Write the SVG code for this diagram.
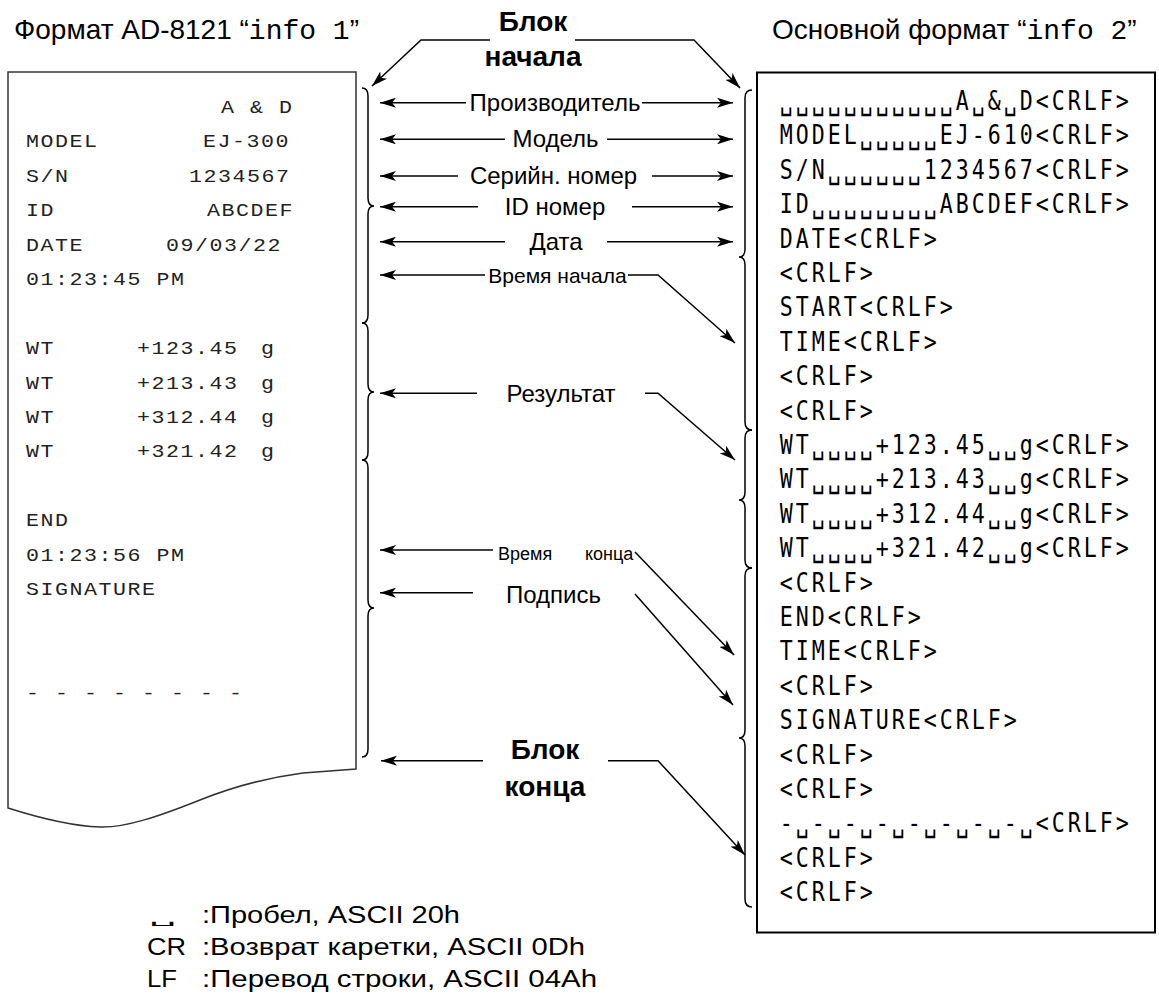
<svg xmlns="http://www.w3.org/2000/svg" width="1159" height="994" viewBox="0 0 1159 994">
<style>
.t{font-family:"Liberation Sans",Arial,sans-serif;fill:#000}
.ttl{font-size:28px}
.tm{font-family:"Liberation Mono","Courier New",monospace}
.mono{font-family:"Liberation Mono","Courier New",monospace;font-size:18px;letter-spacing:1.28px;fill:#222}
.lbl{font-family:"Liberation Sans",Arial,sans-serif;font-size:24px;text-anchor:middle;fill:#000}
.blk{font-family:"Liberation Sans",Arial,sans-serif;font-weight:bold;font-size:28px;text-anchor:middle;fill:#000}
.rt{font-family:"DejaVu Sans Mono","Liberation Mono",monospace;font-size:27px;text-anchor:middle;fill:#000}
.ar{stroke:#000;stroke-width:1.5;fill:none;marker-end:url(#ah)}
.br{stroke:#000;stroke-width:1.5;fill:none}
.leg{font-family:"Liberation Sans",Arial,sans-serif;font-size:23px;fill:#000}
</style>
<defs>
<marker id="ah" markerWidth="16" markerHeight="10" refX="16" refY="5" orient="auto" markerUnits="userSpaceOnUse"><path d="M0,0 L16,5 L0,10 L4,5 Z" fill="#000"/></marker>
</defs>
<rect width="1159" height="994" fill="#fff"/>

<g id="title-left"><text class="t ttl" x="14" y="39">Формат AD-8121 “<tspan class="tm">info 1</tspan>”</text></g>
<g id="title-right"><text class="t ttl" x="772" y="39">Основной формат “<tspan class="tm">info 2</tspan>”</text></g>

<g id="paper">
<path d="M8,72 L356,72 L356,769 L303,773 C280,776 240,784 200,800 C160,816 125,828 100,827 C70,826 30,815 8,808 Z" fill="#fff" stroke="#333" stroke-width="1.5"/>
<g transform="scale(1.2,1)">
<text class="mono" x="184.2" y="113">A &amp; D</text>
<text class="mono" x="21.7" y="147.5">MODEL</text><text class="mono" x="169.2" y="147.5">EJ-300</text>
<text class="mono" x="21.7" y="181.9">S/N</text><text class="mono" x="157.5" y="181.9">1234567</text>
<text class="mono" x="21.7" y="216.4">ID</text><text class="mono" x="172.5" y="216.4">ABCDEF</text>
<text class="mono" x="21.7" y="250.8">DATE</text><text class="mono" x="138.3" y="250.8">09/03/22</text>
<text class="mono" x="21.7" y="285.3">01:23:45 PM</text>
<text class="mono" x="21.7" y="354.2">WT</text><text class="mono" x="114.2" y="354.2">+123.45</text><text class="mono" x="217.5" y="354.2">g</text>
<text class="mono" x="21.7" y="388.6">WT</text><text class="mono" x="114.2" y="388.6">+213.43</text><text class="mono" x="217.5" y="388.6">g</text>
<text class="mono" x="21.7" y="423.1">WT</text><text class="mono" x="114.2" y="423.1">+312.44</text><text class="mono" x="217.5" y="423.1">g</text>
<text class="mono" x="21.7" y="457.5">WT</text><text class="mono" x="114.2" y="457.5">+321.42</text><text class="mono" x="217.5" y="457.5">g</text>
<text class="mono" x="21.7" y="526.4">END</text>
<text class="mono" x="21.7" y="560.9">01:23:56 PM</text>
<text class="mono" x="21.7" y="595.3">SIGNATURE</text>
<text class="mono" x="21.7" y="698.7">- - - - - - - -</text>
</g>
</g>

<g id="record">
<rect x="757" y="72.5" width="398" height="860" fill="#fff" stroke="#000" stroke-width="2"/>
<g transform="scale(0.8,1)">
<text class="rt" y="110" x="982.9 1002.9 1022.9 1042.9 1062.9 1082.9 1102.9 1122.9 1142.9 1162.9 1182.9 1202.9 1222.9 1242.9 1262.9 1282.9 1302.9 1322.9 1342.9 1362.9 1382.9 1402.9">␣␣␣␣␣␣␣␣␣␣␣A␣&amp;␣D&lt;CRLF&gt;</text>
<text class="rt" y="144.4" x="982.9 1002.9 1022.9 1042.9 1062.9 1082.9 1102.9 1122.9 1142.9 1162.9 1182.9 1202.9 1222.9 1242.9 1262.9 1282.9 1302.9 1322.9 1342.9 1362.9 1382.9 1402.9">MODEL␣␣␣␣␣EJ-610&lt;CRLF&gt;</text>
<text class="rt" y="178.8" x="982.9 1002.9 1022.9 1042.9 1062.9 1082.9 1102.9 1122.9 1142.9 1162.9 1182.9 1202.9 1222.9 1242.9 1262.9 1282.9 1302.9 1322.9 1342.9 1362.9 1382.9 1402.9">S/N␣␣␣␣␣␣1234567&lt;CRLF&gt;</text>
<text class="rt" y="213.2" x="982.9 1002.9 1022.9 1042.9 1062.9 1082.9 1102.9 1122.9 1142.9 1162.9 1182.9 1202.9 1222.9 1242.9 1262.9 1282.9 1302.9 1322.9 1342.9 1362.9 1382.9 1402.9">ID␣␣␣␣␣␣␣␣ABCDEF&lt;CRLF&gt;</text>
<text class="rt" y="247.6" x="982.9 1002.9 1022.9 1042.9 1062.9 1082.9 1102.9 1122.9 1142.9 1162.9">DATE&lt;CRLF&gt;</text>
<text class="rt" y="282" x="982.9 1002.9 1022.9 1042.9 1062.9 1082.9">&lt;CRLF&gt;</text>
<text class="rt" y="316.4" x="982.9 1002.9 1022.9 1042.9 1062.9 1082.9 1102.9 1122.9 1142.9 1162.9 1182.9">START&lt;CRLF&gt;</text>
<text class="rt" y="350.8" x="982.9 1002.9 1022.9 1042.9 1062.9 1082.9 1102.9 1122.9 1142.9 1162.9">TIME&lt;CRLF&gt;</text>
<text class="rt" y="385.2" x="982.9 1002.9 1022.9 1042.9 1062.9 1082.9">&lt;CRLF&gt;</text>
<text class="rt" y="419.6" x="982.9 1002.9 1022.9 1042.9 1062.9 1082.9">&lt;CRLF&gt;</text>
<text class="rt" y="454" x="982.9 1002.9 1022.9 1042.9 1062.9 1082.9 1102.9 1122.9 1142.9 1162.9 1182.9 1202.9 1222.9 1242.9 1262.9 1282.9 1302.9 1322.9 1342.9 1362.9 1382.9 1402.9">WT␣␣␣␣+123.45␣␣g&lt;CRLF&gt;</text>
<text class="rt" y="488.4" x="982.9 1002.9 1022.9 1042.9 1062.9 1082.9 1102.9 1122.9 1142.9 1162.9 1182.9 1202.9 1222.9 1242.9 1262.9 1282.9 1302.9 1322.9 1342.9 1362.9 1382.9 1402.9">WT␣␣␣␣+213.43␣␣g&lt;CRLF&gt;</text>
<text class="rt" y="522.8" x="982.9 1002.9 1022.9 1042.9 1062.9 1082.9 1102.9 1122.9 1142.9 1162.9 1182.9 1202.9 1222.9 1242.9 1262.9 1282.9 1302.9 1322.9 1342.9 1362.9 1382.9 1402.9">WT␣␣␣␣+312.44␣␣g&lt;CRLF&gt;</text>
<text class="rt" y="557.2" x="982.9 1002.9 1022.9 1042.9 1062.9 1082.9 1102.9 1122.9 1142.9 1162.9 1182.9 1202.9 1222.9 1242.9 1262.9 1282.9 1302.9 1322.9 1342.9 1362.9 1382.9 1402.9">WT␣␣␣␣+321.42␣␣g&lt;CRLF&gt;</text>
<text class="rt" y="591.6" x="982.9 1002.9 1022.9 1042.9 1062.9 1082.9">&lt;CRLF&gt;</text>
<text class="rt" y="626" x="982.9 1002.9 1022.9 1042.9 1062.9 1082.9 1102.9 1122.9 1142.9">END&lt;CRLF&gt;</text>
<text class="rt" y="660.4" x="982.9 1002.9 1022.9 1042.9 1062.9 1082.9 1102.9 1122.9 1142.9 1162.9">TIME&lt;CRLF&gt;</text>
<text class="rt" y="694.8" x="982.9 1002.9 1022.9 1042.9 1062.9 1082.9">&lt;CRLF&gt;</text>
<text class="rt" y="729.2" x="982.9 1002.9 1022.9 1042.9 1062.9 1082.9 1102.9 1122.9 1142.9 1162.9 1182.9 1202.9 1222.9 1242.9 1262.9">SIGNATURE&lt;CRLF&gt;</text>
<text class="rt" y="763.6" x="982.9 1002.9 1022.9 1042.9 1062.9 1082.9">&lt;CRLF&gt;</text>
<text class="rt" y="798" x="982.9 1002.9 1022.9 1042.9 1062.9 1082.9">&lt;CRLF&gt;</text>
<text class="rt" y="832.4" x="982.9 1002.9 1022.9 1042.9 1062.9 1082.9 1102.9 1122.9 1142.9 1162.9 1182.9 1202.9 1222.9 1242.9 1262.9 1282.9 1302.9 1322.9 1342.9 1362.9 1382.9 1402.9">-␣-␣-␣-␣-␣-␣-␣-␣&lt;CRLF&gt;</text>
<text class="rt" y="866.8" x="982.9 1002.9 1022.9 1042.9 1062.9 1082.9">&lt;CRLF&gt;</text>
<text class="rt" y="901.2" x="982.9 1002.9 1022.9 1042.9 1062.9 1082.9">&lt;CRLF&gt;</text>
</g>
</g>

<g id="label-start-block"><text class="blk" x="533" y="31">Блок</text><text class="blk" x="533" y="66">начала</text></g>
<g id="label-manufacturer"><text class="lbl" x="555" y="110.7">Производитель</text></g>
<g id="label-model"><text class="lbl" x="555.5" y="147.3">Модель</text></g>
<g id="label-serial"><text class="lbl" x="553.5" y="184">Серийн. номер</text></g>
<g id="label-id"><text class="lbl" x="555" y="214.7">ID номер</text></g>
<g id="label-date"><text class="lbl" x="556" y="249.7">Дата</text></g>
<g id="label-start-time"><text class="lbl" x="557.5" y="282.5" style="font-size:21px">Время начала</text></g>
<g id="label-result"><text class="lbl" x="561" y="401.5">Результат</text></g>
<g id="label-end-time"><text class="t" x="498" y="560" style="font-size:18px">Время</text><text class="t" x="585" y="560" style="font-size:18px">конца</text></g>
<g id="label-signature"><text class="lbl" x="553.5" y="603">Подпись</text></g>
<g id="label-end-block"><text class="blk" x="545" y="759">Блок</text><text class="blk" x="545" y="796">конца</text></g>

<g id="connectors">
<polyline class="ar" points="490,40 421,40 372,86"/>
<polyline class="ar" points="575,40 694,40 740,88"/>
<line class="ar" x1="466" y1="102.7" x2="380" y2="102.7"/><line class="ar" x1="642" y1="102.7" x2="733" y2="102.7"/>
<line class="ar" x1="505" y1="139.3" x2="380" y2="139.3"/><line class="ar" x1="607" y1="139.3" x2="733" y2="139.3"/>
<line class="ar" x1="458" y1="176" x2="380" y2="176"/><line class="ar" x1="652" y1="176" x2="733" y2="176"/>
<line class="ar" x1="478" y1="206.7" x2="380" y2="206.7"/><line class="ar" x1="632" y1="206.7" x2="733" y2="206.7"/>
<line class="ar" x1="505" y1="241.7" x2="380" y2="241.7"/><line class="ar" x1="607" y1="241.7" x2="733" y2="241.7"/>
<line class="ar" x1="485" y1="275" x2="380" y2="275"/><polyline class="ar" points="628,275 658,275 735,343"/>
<line class="ar" x1="477" y1="393.3" x2="380" y2="393.3"/><polyline class="ar" points="645,393.3 658,393.3 735,460"/>
<line class="ar" x1="493" y1="550" x2="380" y2="550"/><line class="ar" x1="635" y1="552" x2="734" y2="655"/>
<line class="ar" x1="473" y1="592.7" x2="380" y2="592.7"/><line class="ar" x1="635" y1="594" x2="733" y2="705"/>
<line class="ar" x1="483" y1="760.7" x2="381" y2="760.7"/><polyline class="ar" points="608,760.7 658,760.7 745,855"/>
<path class="br" d="M362,88 Q368,88 368,96 L368,198 Q368,206 374,206 Q368,206 368,214 L368,315 Q368,323 362,323"/>
<path class="br" d="M362,323 Q368,323 368,331 L368,384 Q368,392 374,392 Q368,392 368,400 L368,452 Q368,460 362,460"/>
<path class="br" d="M362,460 Q368,460 368,468 L368,600 Q368,608 374,608 Q368,608 368,616 L368,749 Q368,757 362,757"/>
<path class="br" d="M752,90 Q745,90 745,98 L745,249 Q745,257 739,257 Q745,257 745,265 L745,422 Q745,430 752,430"/>
<path class="br" d="M752,430 Q745,430 745,438 L745,492 Q745,500 739,500 Q745,500 745,508 L745,560 Q745,568 752,568"/>
<path class="br" d="M752,568 Q745,568 745,576 L745,730 Q745,738 739,738 Q745,738 745,746 L745,899 Q745,907 752,907"/>
</g>

<g id="legend">
<text transform="translate(163,923) scale(1.7,0.5)" x="0" y="0" style="font-family:'DejaVu Sans',sans-serif;font-size:26px;text-anchor:middle">␣</text>
<text class="leg" x="202" y="923" textLength="258" lengthAdjust="spacingAndGlyphs">:Пробел, ASCII 20h</text>
<text class="leg" x="147" y="955" textLength="39" lengthAdjust="spacingAndGlyphs">CR</text><text class="leg" x="202" y="955" textLength="383" lengthAdjust="spacingAndGlyphs">:Возврат каретки, ASCII 0Dh</text>
<text class="leg" x="147" y="987" textLength="30" lengthAdjust="spacingAndGlyphs">LF</text><text class="leg" x="202" y="987" textLength="395" lengthAdjust="spacingAndGlyphs">:Перевод строки, ASCII 04Ah</text>
</g>
</svg>
